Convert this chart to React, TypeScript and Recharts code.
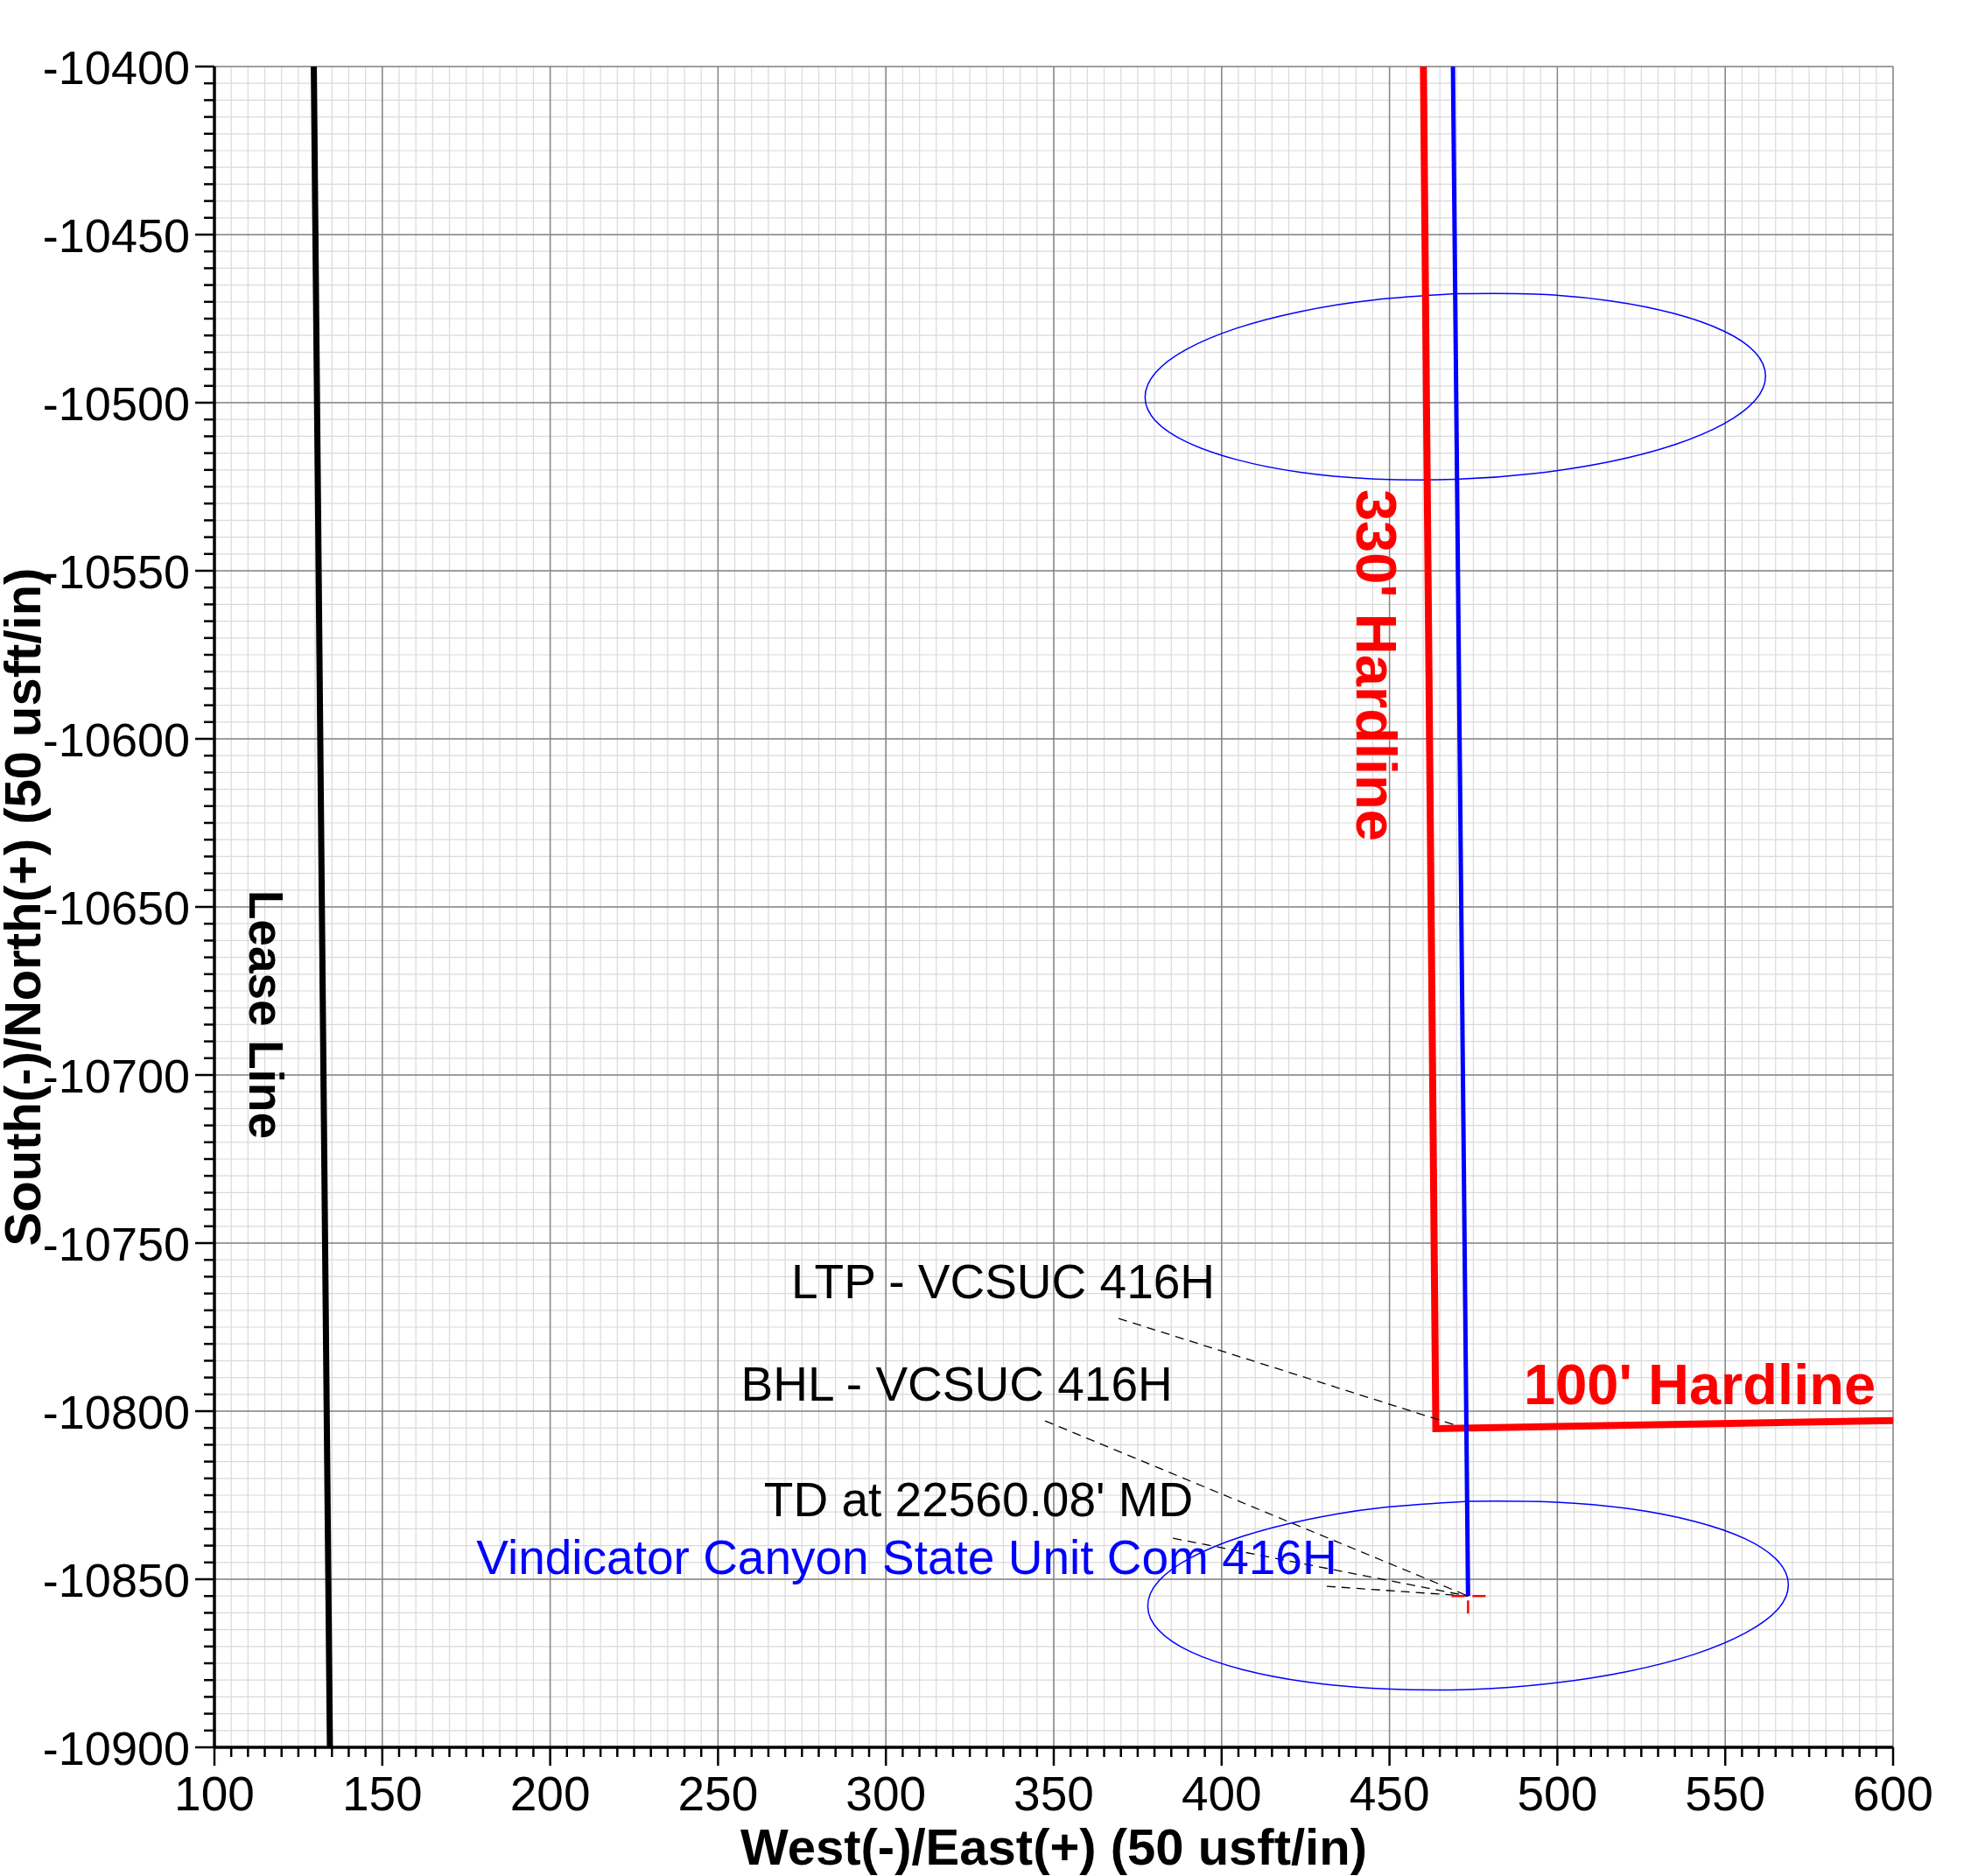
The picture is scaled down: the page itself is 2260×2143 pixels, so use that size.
import { CartesianGrid, Line, LineChart, ReferenceDot, ReferenceLine, XAxis, YAxis } from "recharts"

const FONT = "'Liberation Sans', Arial, sans-serif"

// axis tick labels (major), minor ticks every 5 usft
const xTicks = [100, 150, 200, 250, 300, 350, 400, 450, 500, 550, 600]
const yTicks = [-10900, -10850, -10800, -10750, -10700, -10650, -10600, -10550, -10500, -10450, -10400]
const xMinor = Array.from({ length: 101 }, (_, i) => 100 + i * 5)
const yMinor = Array.from({ length: 101 }, (_, i) => -10900 + i * 5)

const leaseLine = [
  { x: 129.6, y: -10400 },
  { x: 134.4, y: -10900 },
]

const hardline = [
  { x: 460.1, y: -10400 },
  { x: 463.8, y: -10805.2 },
  { x: 600, y: -10802.8 },
]

const wellbore = [
  { x: 468.9, y: -10400 },
  { x: 473.4, y: -10855 },
]

// error ellipses, traced from the top point round to the top again
const ellipseUpper = [
  { x: 469.6, y: -10467.6 }, { x: 445.7, y: -10469.4 }, { x: 423.4, y: -10472.9 }, { x: 404.3, y: -10477.9 },
  { x: 389.6, y: -10484.1 }, { x: 380.3, y: -10491.1 }, { x: 377.2, y: -10498.4 }, { x: 380.3, y: -10505.4 },
  { x: 389.6, y: -10511.7 }, { x: 404.3, y: -10516.9 }, { x: 423.4, y: -10520.7 }, { x: 445.7, y: -10522.7 },
  { x: 469.6, y: -10522.8 }, { x: 493.5, y: -10521.0 }, { x: 515.8, y: -10517.5 }, { x: 534.9, y: -10512.5 },
  { x: 549.6, y: -10506.3 }, { x: 558.9, y: -10499.3 }, { x: 562.0, y: -10492.1 }, { x: 558.9, y: -10485.0 },
  { x: 549.6, y: -10478.7 }, { x: 534.9, y: -10473.5 }, { x: 515.8, y: -10469.7 }, { x: 493.5, y: -10467.7 },
  { x: 469.6, y: -10467.6 },
]

const ellipseLower = [
  { x: 473.4, y: -10826.8 }, { x: 448.7, y: -10828.6 }, { x: 425.7, y: -10832.2 }, { x: 406.0, y: -10837.3 },
  { x: 390.8, y: -10843.6 }, { x: 381.2, y: -10850.6 }, { x: 378.0, y: -10858.0 }, { x: 381.2, y: -10865.1 },
  { x: 390.8, y: -10871.6 }, { x: 406.0, y: -10876.8 }, { x: 425.7, y: -10880.6 }, { x: 448.7, y: -10882.6 },
  { x: 473.4, y: -10882.8 }, { x: 498.1, y: -10881.0 }, { x: 521.1, y: -10877.4 }, { x: 540.9, y: -10872.3 },
  { x: 556.0, y: -10866.0 }, { x: 565.6, y: -10859.0 }, { x: 568.8, y: -10851.6 }, { x: 565.6, y: -10844.5 },
  { x: 556.0, y: -10838.0 }, { x: 540.9, y: -10832.8 }, { x: 521.1, y: -10829.0 }, { x: 498.1, y: -10827.0 },
  { x: 473.4, y: -10826.8 },
]

const tdPoint = { x: 473.4, y: -10855 }
const ltpPoint = { x: 469.2, y: -10804 }

const leaderStarts = [
  { x: 369.3, y: -10772.4, to: ltpPoint },
  { x: 347.4, y: -10802.9, to: tdPoint },
  { x: 385.5, y: -10837.8, to: tdPoint },
  { x: 431.3, y: -10852.1, to: tdPoint },
]

const notes = [
  { text: "LTP - VCSUC 416H", x: 334.9, y: -10766.4, color: "#000000" },
  { text: "BHL - VCSUC 416H", x: 321.1, y: -10796.9, color: "#000000" },
  { text: "TD at 22560.08' MD", x: 327.6, y: -10831.3, color: "#000000" },
  { text: "Vindicator Canyon State Unit Com 416H", x: 306.2, y: -10848.4, color: "#0000ff" },
]

const boldNotes = [
  { text: "100' Hardline", x: 542.4, y: -10797.9, color: "#ff0000", size: 65, rotate: 0 },
  { text: "330' Hardline", x: 440.2, y: -10578.1, color: "#ff0000", size: 65, rotate: 90 },
  { text: "Lease Line", x: 110.4, y: -10682.0, color: "#000000", size: 55, rotate: 90 },
]

function XTick(props: any) {
  const { x, y, payload } = props
  const major = payload.value % 50 === 0
  return (
    <g>
      <line x1={x} y1={y} x2={x} y2={y + (major ? 21 : 11)} stroke="#000" strokeWidth={2.5} />
      {major && (
        <text x={x} y={y + 72} textAnchor="middle" fontSize={55} fontFamily={FONT} fill="#000">
          {payload.value}
        </text>
      )}
    </g>
  )
}

function YTick(props: any) {
  const { x, y, payload } = props
  const major = payload.value % 50 === 0
  return (
    <g>
      <line x1={x - (major ? 22 : 12)} y1={y} x2={x} y2={y} stroke="#000" strokeWidth={2.5} />
      {major && (
        <text x={x - 28} y={y + 20} textAnchor="end" fontSize={54} fontFamily={FONT} fill="#000">
          {payload.value}
        </text>
      )}
    </g>
  )
}

function TdCross(props: any) {
  const { cx, cy } = props
  return (
    <g stroke="#ff0000" strokeWidth={2.5}>
      <line x1={cx - 19} y1={cy} x2={cx - 4} y2={cy} />
      <line x1={cx + 5} y1={cy} x2={cx + 20} y2={cy} />
      <line x1={cx} y1={cy + 5} x2={cx} y2={cy + 20} />
    </g>
  )
}

export default function App() {
  return (
    <div style={{ width: 2260, height: 2143, background: "#fff" }}>
      <style>{"body{margin:0}"}</style>
      <LineChart width={2260} height={2143} margin={{ top: 76, right: 97, bottom: 0, left: 0 }}>
        <CartesianGrid verticalValues={xMinor} horizontalValues={yMinor} stroke="#dadada" strokeWidth={1.2} />
        <CartesianGrid verticalValues={xTicks} horizontalValues={yTicks} stroke="#858585" strokeWidth={1.5} />
        <XAxis
          type="number"
          dataKey="x"
          domain={[100, 600]}
          ticks={xMinor}
          interval={0}
          allowDataOverflow
          height={147}
          tickSize={0}
          tickMargin={0}
          tick={<XTick />}
          axisLine={{ stroke: "#000", strokeWidth: 3.5 }}
          label={{
            content: (p: any) => (
              <text
                x={p.viewBox.x + p.viewBox.width / 2}
                y={p.viewBox.y + 134}
                textAnchor="middle"
                fontSize={58}
                fontWeight="bold"
                fontFamily={FONT}
                fill="#000"
              >
                West(-)/East(+) (50 usft/in)
              </text>
            ),
          }}
        />
        <YAxis
          type="number"
          dataKey="y"
          domain={[-10900, -10400]}
          ticks={yMinor}
          interval={0}
          allowDataOverflow
          width={245}
          tickSize={0}
          tickMargin={0}
          tick={<YTick />}
          axisLine={{ stroke: "#000", strokeWidth: 3.5 }}
          label={{
            content: (p: any) => {
              const cx = p.viewBox.x + 46
              const cy = p.viewBox.y + p.viewBox.height / 2
              return (
                <text
                  x={cx}
                  y={cy}
                  transform={`rotate(-90 ${cx} ${cy})`}
                  textAnchor="middle"
                  fontSize={58}
                  fontWeight="bold"
                  fontFamily={FONT}
                  fill="#000"
                >
                  South(-)/North(+) (50 usft/in)
                </text>
              )
            },
          }}
        />
        <Line data={ellipseUpper} dataKey="y" type="natural" stroke="#0000ff" strokeWidth={1.5} dot={false} activeDot={false} isAnimationActive={false} />
        <Line data={ellipseLower} dataKey="y" type="natural" stroke="#0000ff" strokeWidth={1.5} dot={false} activeDot={false} isAnimationActive={false} />
        <Line data={leaseLine} dataKey="y" stroke="#000000" strokeWidth={7} dot={false} activeDot={false} isAnimationActive={false} />
        <Line data={hardline} dataKey="y" stroke="#ff0000" strokeWidth={8} strokeLinejoin="miter" dot={false} activeDot={false} isAnimationActive={false} />
        <Line data={wellbore} dataKey="y" stroke="#0000ff" strokeWidth={5} dot={false} activeDot={false} isAnimationActive={false} />
        {leaderStarts.map((l, i) => (
          <ReferenceLine
            key={i}
            segment={[{ x: l.x, y: l.y }, { x: l.to.x, y: l.to.y }]}
            stroke="#000"
            strokeWidth={1.3}
            strokeDasharray="10 7"
          />
        ))}
        <ReferenceDot x={tdPoint.x} y={tdPoint.y} r={0} shape={<TdCross />} />
        {notes.map((n, i) => (
          <ReferenceDot
            key={"n" + i}
            x={n.x}
            y={n.y}
            r={0}
            shape={(p: any) => (
              <text x={p.cx} y={p.cy} textAnchor="middle" fontSize={55} fontFamily={FONT} fill={n.color}>
                {n.text}
              </text>
            )}
          />
        ))}
        {boldNotes.map((n, i) => (
          <ReferenceDot
            key={"b" + i}
            x={n.x}
            y={n.y}
            r={0}
            shape={(p: any) => (
              <text
                x={p.cx}
                y={p.cy}
                transform={n.rotate ? `rotate(${n.rotate} ${p.cx} ${p.cy})` : undefined}
                textAnchor="middle"
                fontSize={n.size}
                fontWeight="bold"
                fontFamily={FONT}
                fill={n.color}
              >
                {n.text}
              </text>
            )}
          />
        ))}
      </LineChart>
    </div>
  )
}
